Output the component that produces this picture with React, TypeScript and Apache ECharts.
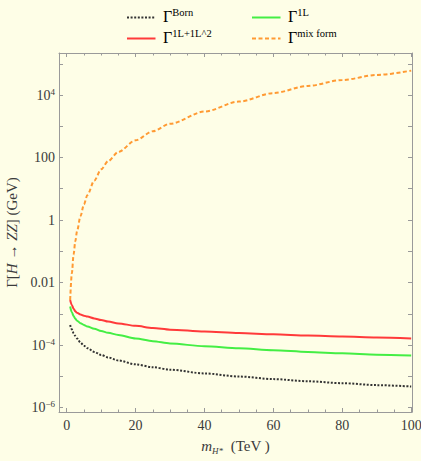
import React, { useEffect, useRef } from 'react';
import * as echarts from 'echarts';

// m_{H*} in TeV (sample points)
const massTeV = [1, 1.5, 2, 2.5, 3, 4, 5, 6, 8, 10, 12, 15, 20, 25, 30, 40, 50, 60, 70, 80, 90, 100];

// Γ[H → ZZ] in GeV
const gammaBorn = [4.37e-4, 3.16e-4, 2.4e-4, 1.95e-4, 1.62e-4, 1.2e-4, 9.5e-5, 7.9e-5, 6.0e-5, 4.8e-5, 4.0e-5, 3.2e-5, 2.4e-5, 1.95e-5, 1.62e-5, 1.23e-5, 9.8e-6, 8.1e-6, 6.9e-6, 6.0e-6, 5.2e-6, 4.7e-6];
const gamma1L1L2 = [2.75e-3, 1.9e-3, 1.45e-3, 1.2e-3, 1.07e-3, 9.5e-4, 8.7e-4, 8.1e-4, 7.1e-4, 6.3e-4, 5.6e-4, 4.9e-4, 4.1e-4, 3.5e-4, 3.1e-4, 2.7e-4, 2.4e-4, 2.2e-4, 2.0e-4, 1.86e-4, 1.74e-4, 1.62e-4];
const gamma1L = [1.7e-3, 1.12e-3, 8.5e-4, 6.9e-4, 6.0e-4, 5.0e-4, 4.4e-4, 3.9e-4, 3.3e-4, 2.8e-4, 2.45e-4, 2.1e-4, 1.62e-4, 1.32e-4, 1.12e-4, 9.1e-5, 7.8e-5, 6.8e-5, 6.0e-5, 5.4e-5, 4.9e-5, 4.6e-5];
const gammaMix = [2.75e-3, 0.02, 0.079, 0.21, 0.44, 1.32, 3.16, 6.3, 18.2, 41.7, 75.9, 151, 355, 692, 1200, 2950, 6170, 1.15e4, 1.95e4, 3.02e4, 4.37e4, 6.03e4];

const seriesNames = ['Γ^Born', 'Γ^1L', 'Γ^1L+1L^2', 'Γ^mix form'];

// axis ticks / labels
const xLabelValues = [0, 20, 40, 60, 80, 100];
const xMinorTickValues = [5, 10, 15, 25, 30, 35, 45, 50, 55, 65, 70, 75, 85, 90, 95];
const yTickExponents = [-6, -5, -4, -3, -2, -1, 0, 1, 2, 3, 4, 5];
const yLabelExponents = [-6, -4, -2, 0, 2, 4];
const yLabelTexts = ['{b|10}{e|−6}', '{b|10}{e|−4}', '{b|0.01}', '{b|1}', '{b|100}', '{b|10}{e|4}'];

const SERIF = '"Liberation Serif", "DejaVu Serif", serif';
const TEXT = '#3a3a3a';
const AXIS = '#9a9a9a';
const BG = '#fefee7';

const xMin = -2.235;
const xMax = 100.23;
const yMin = -6.144;
const yMax = 5.344;

const COLORS = {
  born: '#333333',
  oneL: '#44ee44',
  twoL: '#ff3a3a',
  mix: '#ff9a33',
};

export default function App() {
  const ref = useRef<HTMLDivElement>(null);

  useEffect(() => {
    if (!ref.current) return;
    const chart = echarts.init(ref.current, null, { renderer: 'svg' });

    const toPairs = (vals: number[]) => massTeV.map((m, i) => [m, Math.log10(vals[i])]);

    const labelRich = {
      b: { fontFamily: SERIF, fontSize: 14, color: TEXT, lineHeight: 16 },
      e: { fontFamily: SERIF, fontSize: 9, color: TEXT, verticalAlign: 'top', lineHeight: 9 },
    };

    const baseX: any = {
      type: 'value',
      min: xMin,
      max: xMax,
      splitLine: { show: false },
      axisLabel: { show: false },
      axisLine: { show: false, onZero: false },
      axisTick: { show: false },
    };
    const baseY: any = {
      type: 'value',
      min: yMin,
      max: yMax,
      splitLine: { show: false },
      axisLabel: { show: false },
      axisLine: { show: false, onZero: false },
      axisTick: { show: false },
    };

    const majorTick = (vals: number[], len: number) => ({
      show: true,
      inside: true,
      length: len,
      lineStyle: { color: AXIS, width: 1 },
      customValues: vals,
    });

    const legendRich = {
      g: { fontFamily: SERIF, fontSize: 16, color: TEXT, lineHeight: 18, verticalAlign: 'bottom' },
      s: { fontFamily: SERIF, fontSize: 10.5, color: TEXT, lineHeight: 10, verticalAlign: 'top' },
    };

    const legendItem = (x: number, y: number, color: string, dash: any, sup: string) => [
      {
        type: 'line',
        shape: { x1: x, y1: y, x2: x + 28.5, y2: y },
        style: { stroke: color, lineWidth: 2, lineDash: dash },
        silent: true,
      },
      {
        type: 'text',
        x: x + 36,
        y: y - 2,
        style: { text: `{g|Γ}{s|${sup}}`, rich: legendRich, verticalAlign: 'middle', align: 'left' },
        silent: true,
      },
    ];

    const lineSeries = (name: string, vals: number[], color: string, type: any) => ({
      name,
      type: 'line',
      data: toPairs(vals),
      symbol: 'none',
      smooth: 0.3,
      smoothMonotone: 'x',
      lineStyle: { color, width: 2, type },
      itemStyle: { color },
    });

    const option: any = {
      animation: false,
      backgroundColor: BG,
      grid: { left: 59, right: 9, top: 53, bottom: 49, containLabel: false, outerBoundsMode: 'none' },
      xAxis: [
        {
          ...baseX,
          position: 'bottom',
          axisLine: { show: true, onZero: false, lineStyle: { color: AXIS, width: 1 } },
          axisTick: majorTick(xLabelValues, 4),
          axisLabel: {
            show: true,
            customValues: xLabelValues,
            margin: 6,
            fontFamily: SERIF,
            fontSize: 14,
            color: TEXT,
            formatter: (v: number) => String(Math.round(v)),
          },
          name: '{i|m}{s|H*}{n|  (TeV )}',
          nameLocation: 'middle',
          nameGap: 25,
          nameTextStyle: {
            rich: {
              i: { fontFamily: SERIF, fontSize: 15, fontStyle: 'italic', color: TEXT, lineHeight: 18 },
              s: { fontFamily: SERIF, fontSize: 9, fontStyle: 'italic', color: TEXT, verticalAlign: 'bottom', lineHeight: 9 },
              n: { fontFamily: SERIF, fontSize: 15, color: TEXT, lineHeight: 18 },
            },
          },
        },
        { ...baseX, position: 'bottom', axisTick: majorTick(xMinorTickValues, 2.5) },
        {
          ...baseX,
          position: 'top',
          axisLine: { show: true, onZero: false, lineStyle: { color: AXIS, width: 1 } },
          axisTick: majorTick(xLabelValues, 4),
        },
        { ...baseX, position: 'top', axisTick: majorTick(xMinorTickValues, 2.5) },
      ],
      yAxis: [
        {
          ...baseY,
          position: 'left',
          axisLine: { show: true, onZero: false, lineStyle: { color: AXIS, width: 1 } },
          axisTick: majorTick(yTickExponents, 4),
          axisLabel: {
            show: true,
            customValues: yLabelExponents,
            margin: 4,
            formatter: (v: number) => {
              const i = yLabelExponents.indexOf(Math.round(v));
              return i >= 0 ? yLabelTexts[i] : '';
            },
            rich: labelRich,
          },
          name: '{n|Γ[}{i|H}{n| → }{i|ZZ}{n|] (GeV)}',
          nameLocation: 'middle',
          nameRotate: 90,
          nameGap: 31,
          nameTextStyle: {
            rich: {
              n: { fontFamily: SERIF, fontSize: 15, color: TEXT },
              i: { fontFamily: SERIF, fontSize: 15, fontStyle: 'italic', color: TEXT },
            },
          },
        },
        {
          ...baseY,
          position: 'right',
          axisLine: { show: true, onZero: false, lineStyle: { color: AXIS, width: 1 } },
          axisTick: majorTick(yTickExponents, 4),
        },
      ],
      series: [
        lineSeries(seriesNames[0], gammaBorn, COLORS.born, [2, 1.6]),
        lineSeries(seriesNames[1], gamma1L, COLORS.oneL, 'solid'),
        lineSeries(seriesNames[2], gamma1L1L2, COLORS.twoL, 'solid'),
        lineSeries(seriesNames[3], gammaMix, COLORS.mix, [4, 2.5]),
      ],
      graphic: [
        ...legendItem(127, 17.5, COLORS.born, [2, 1.6], 'Born'),
        ...legendItem(252, 17.5, COLORS.oneL, null, '1L'),
        ...legendItem(127, 38.5, COLORS.twoL, null, '1L+1L^2'),
        ...legendItem(252, 38.5, COLORS.mix, [4, 2.5], 'mix form'),
      ],
    };

    chart.setOption(option);
    return () => chart.dispose();
  }, []);

  return (
    <div
      ref={ref}
      style={{ position: 'fixed', left: 0, top: 0, width: 421, height: 461, background: BG }}
    />
  );
}
